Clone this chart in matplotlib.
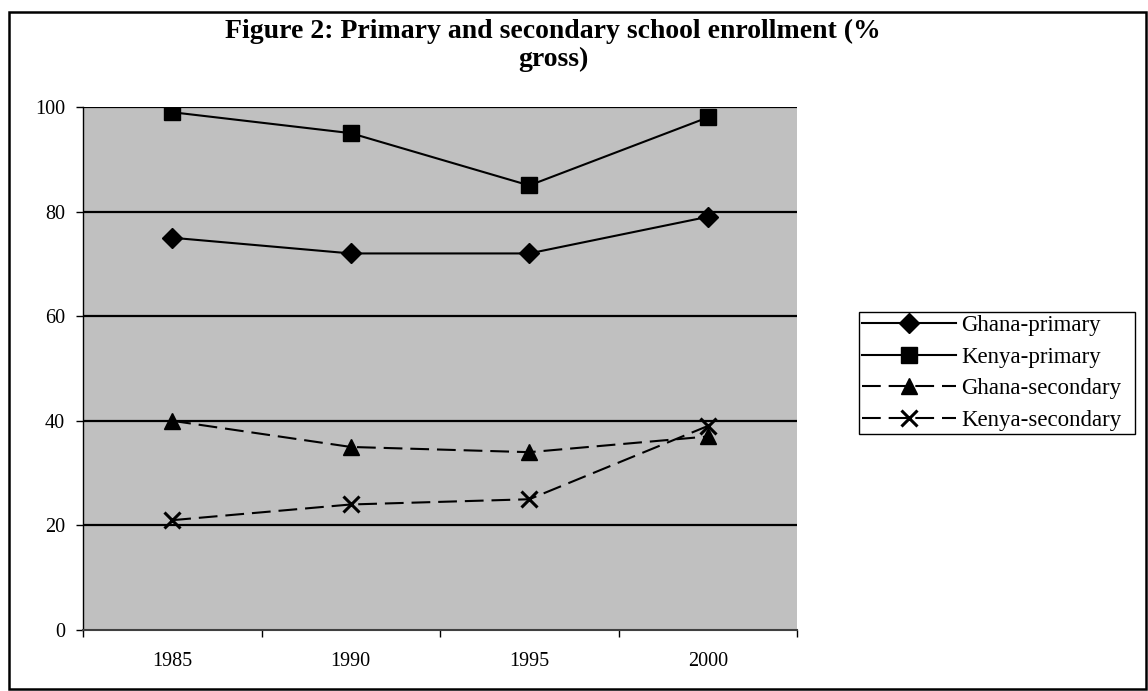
import matplotlib
matplotlib.use("Agg")
import matplotlib.pyplot as plt
from matplotlib.patches import Rectangle

plt.rcParams['font.family'] = ['Liberation Serif', 'DejaVu Serif']

years = ["1985", "1990", "1995", "2000"]
ghana_primary = [75, 72, 72, 79]
kenya_primary = [99, 95, 85, 98]
ghana_secondary = [40, 35, 34, 37]
kenya_secondary = [21, 24, 25, 39]
y_ticks = [0, 20, 40, 60, 80, 100]

W, H = 1148, 691
fig = plt.figure(figsize=(W / 100, H / 100), dpi=100)
fig.patch.set_facecolor("white")

# outer chart border
fig.add_artist(Rectangle((9 / W, 1 - 689 / H), (1146 - 9) / W, (689 - 12) / H,
                         transform=fig.transFigure, fill=False,
                         edgecolor="black", linewidth=1.8, zorder=10))

ax = fig.add_axes([83 / W, 1 - 630 / H, (797 - 83) / W, (630 - 107) / H])
ax.set_facecolor("#c0c0c0")

x = list(range(len(years)))
dash = (0, (9, 3.8))
lw = 1.5
ax.plot(x, ghana_primary, marker="D", markersize=10, linestyle="-",
        color="black", linewidth=lw, label="Ghana-primary", zorder=4)
ax.plot(x, kenya_primary, marker="s", markersize=11, linestyle="-",
        color="black", linewidth=lw, label="Kenya-primary", zorder=4)
ax.plot(x, ghana_secondary, marker="^", markersize=11, linestyle=dash,
        color="black", linewidth=lw, label="Ghana-secondary", zorder=4)
ax.plot(x, kenya_secondary, marker="x", markersize=11, markeredgewidth=2.2,
        linestyle=dash, color="black", linewidth=lw,
        label="Kenya-secondary", zorder=4)

ax.set_xlim(-0.5, len(years) - 0.5)
ax.set_ylim(0, 100)
ax.set_yticks(y_ticks)
ax.set_yticklabels([str(v) for v in y_ticks], fontsize=14.5)
for v in y_ticks[1:]:
    ax.axhline(v, color="black", linewidth=1.6, zorder=2)

# category labels centred, tick marks on category boundaries
ax.set_xticks(x)
ax.set_xticklabels(years, fontsize=14.5)
ax.tick_params(axis="x", which="major", length=0, pad=16)
ax.set_xticks([i - 0.5 for i in range(len(years) + 1)], minor=True)
ax.tick_params(axis="x", which="minor", length=5, width=1, direction="out")
ax.tick_params(axis="y", length=5, width=1, direction="out", pad=8)

for side in ["top", "right"]:
    ax.spines[side].set_visible(False)
ax.spines["left"].set_linewidth(1)
ax.spines["bottom"].set_linewidth(1.5)
ax.spines["bottom"].set_color("#404040")

fig.text(553 / W, 1 - 38 / H, "Figure 2: Primary and secondary school enrollment (%",
         ha="center", va="baseline", fontsize=20, fontweight="bold")
fig.text(553 / W, 1 - 66 / H, "gross)",
         ha="center", va="baseline", fontsize=20, fontweight="bold")

leg_left, leg_right, leg_bottom = 859, 1135, 434
leg = ax.legend(loc="lower left",
                bbox_to_anchor=(leg_left / W, 1 - leg_bottom / H,
                                (leg_right - leg_left) / W, 0),
                bbox_transform=fig.transFigure, mode="expand",
                fontsize=16.5, frameon=True,
                fancybox=False, edgecolor="black", framealpha=1,
                handlelength=4.1, handletextpad=0.2, labelspacing=0.45,
                borderpad=0.15, borderaxespad=0)
leg.get_frame().set_linewidth(1)

fig.savefig("out.png", dpi=100, facecolor="white")
